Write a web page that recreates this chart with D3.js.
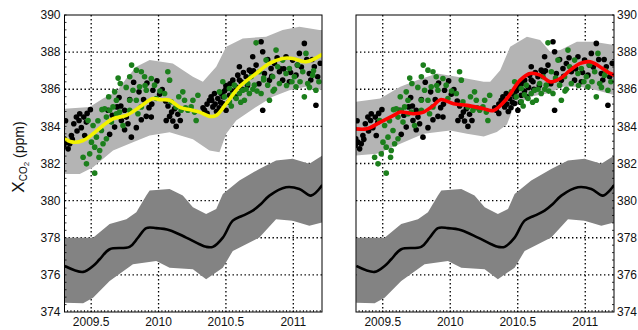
<!DOCTYPE html>
<html><head><meta charset="utf-8">
<script src="https://cdn.jsdelivr.net/npm/d3@7"></script>
<style>body{margin:0;background:#fff}svg{display:block}text{font-family:"Liberation Sans",Arial,sans-serif}</style>
</head><body><svg width="638" height="330"></svg>
<script>
// ---------- DATA ----------
const yTickValues = [374, 376, 378, 380, 382, 384, 386, 388, 390];
const xTickValues = [2009.5, 2010, 2010.5, 2011];
const xTickLabels = ["2009.5", "2010", "2010.5", "2011"];
const yTickLabels = ["374", "376", "378", "380", "382", "384", "386", "388", "390"];

// lower (background) series, same in both panels
const baseT  = [2009.304,2009.44,2009.514,2009.563,2009.637,2009.785,2009.847,2009.909,2009.983,2010.082,2010.205,2010.304,2010.353,2010.403,2010.477,2010.551,2010.625,2010.699,2010.76,2010.823,2010.946,2011.045,2011.131,2011.215];
const baseV  = [376.48,376.16,376.48,376.84,377.38,377.51,378.0,378.52,378.52,378.41,378.01,377.65,377.51,377.51,378.01,378.92,379.19,379.46,379.82,380.27,380.72,380.63,380.27,380.84];
const baseHiT = [2009.304,2009.514,2009.637,2009.761,2009.835,2009.909,2009.934,2010.082,2010.18,2010.255,2010.353,2010.428,2010.477,2010.6,2010.748,2010.872,2010.995,2011.119,2011.215];
const baseHiV = [378.0,378.0,378.74,379.0,379.37,380.27,380.54,380.63,380.27,379.64,379.28,379.55,380.36,381.08,381.71,382.16,382.25,381.98,382.43];
const baseLoT = [2009.304,2009.44,2009.514,2009.637,2009.81,2009.983,2010.082,2010.255,2010.353,2010.477,2010.551,2010.748,2010.872,2010.995,2011.119,2011.215];
const baseLoV = [374.5,374.47,374.77,375.67,376.57,376.75,376.39,376.3,375.76,376.39,377.29,378.01,379.0,378.92,378.65,378.83];

// left panel model (yellow)
const leftLineT = [2009.304,2009.366,2009.44,2009.514,2009.588,2009.662,2009.761,2009.86,2009.958,2010.008,2010.082,2010.156,2010.255,2010.304,2010.378,2010.428,2010.502,2010.6,2010.724,2010.823,2010.921,2010.995,2011.094,2011.215];
const leftLineV = [383.33,383.15,383.24,383.6,384.05,384.41,384.59,385.04,385.5,385.44,385.41,385.04,384.86,384.77,384.54,384.59,385.23,386.13,386.85,387.39,387.66,387.66,387.48,387.88];
const leftHiT = [2009.304,2009.489,2009.588,2009.687,2009.761,2009.835,2009.934,2010.106,2010.255,2010.329,2010.428,2010.502,2010.625,2010.798,2010.921,2011.045,2011.193,2011.22];
const leftHiV = [384.95,385.04,385.5,385.86,386.58,387.21,387.57,387.39,386.67,386.4,387.21,388.29,388.74,388.83,389.19,389.37,389.19,389.2];
const leftLoT = [2009.304,2009.415,2009.514,2009.662,2009.81,2009.934,2010.082,2010.255,2010.378,2010.452,2010.502,2010.576,2010.724,2010.847,2010.971,2011.094,2011.22];
const leftLoV = [381.44,381.44,381.8,382.7,383.15,383.51,383.69,383.3,382.7,382.61,383.6,384.32,385.05,385.59,385.95,386.13,385.95];

// right panel model (red)
const rightLineT = [2009.297,2009.383,2009.482,2009.581,2009.63,2009.729,2009.803,2009.877,2009.927,2010.025,2010.124,2010.248,2010.321,2010.42,2010.518,2010.592,2010.666,2010.74,2010.815,2010.889,2010.963,2011.037,2011.111,2011.185,2011.22];
const rightLineV = [383.87,383.87,384.23,384.59,384.77,384.68,384.77,385.13,385.44,385.22,385.13,384.95,384.86,385.5,386.49,386.85,386.76,386.4,386.58,387.03,387.39,387.48,387.2,386.85,386.75];
const rightHiT = [2009.297,2009.482,2009.63,2009.754,2009.902,2010.05,2010.248,2010.296,2010.37,2010.444,2010.568,2010.666,2010.74,2010.815,2010.938,2011.062,2011.22];
const rightHiV = [385.32,385.5,386.13,386.49,386.85,386.67,386.4,386.4,387.03,388.29,388.83,388.65,388.02,388.11,388.56,388.56,388.38];
const rightLoT = [2009.297,2009.457,2009.63,2009.803,2010.0,2010.124,2010.248,2010.345,2010.42,2010.469,2010.592,2010.716,2010.839,2010.963,2011.086,2011.22];
const rightLoV = [382.43,382.52,383.06,383.6,383.78,383.6,383.45,383.7,384.1,385.05,385.59,385.77,386.13,386.13,385.95,385.68];

// observations (same in both panels)
const blackT = [2009.287,2009.300,2009.297,2009.329,2009.316,2009.353,2009.371,2009.390,2009.410,2009.427,2009.395,2009.445,2009.464,2009.494,2009.452,2009.341,2009.415,2009.707,2009.692,2009.657,2009.625,2009.724,2009.748,2009.773,2009.798,2009.674,2009.637,2009.748,2009.835,2009.872,2009.909,2009.929,2009.889,2010.008,2009.988,2010.027,2010.052,2010.082,2010.106,2010.131,2010.097,2010.143,2010.161,2010.119,2009.815,2009.855,2009.914,2009.958,2009.786,2009.761,2010.057,2009.946,2010.378,2010.415,2010.440,2010.465,2010.501,2010.477,2010.551,2010.588,2010.613,2010.650,2010.699,2010.724,2010.761,2010.773,2010.786,2010.835,2010.860,2010.897,2010.946,2010.995,2011.045,2011.082,2011.119,2011.156,2011.181,2011.168,2010.773,2010.600,2010.921,2010.823,2010.526,2010.403,2010.341,2010.501,2010.674,2011.020,2010.971,2010.420,2010.450,2010.480,2010.520,2010.550,2010.580,2010.620,2010.630,2010.500,2010.570,2010.360,2010.395,2010.705,2010.745,2010.905,2011.060,2011.140,2011.200,
  2010.33,2010.36,2010.39,2010.43,2010.46,2010.49,2010.53,2010.60,2010.66,2010.69,2010.81,2010.84,2010.88,2010.93,2010.98,2011.03,2011.10,2011.13,2009.31,2009.36,2009.47,2009.72,2009.95,2010.07];
const blackV = [383.87,383.33,382.97,382.79,383.15,383.51,384.14,384.50,384.32,383.93,383.75,384.50,384.23,384.90,383.51,383.06,384.68,385.55,385.05,384.60,384.87,384.32,383.82,384.14,383.42,383.96,383.57,384.87,383.93,384.36,384.54,385.01,385.44,385.73,386.45,385.98,385.37,384.54,384.29,384.00,384.77,384.65,384.32,384.95,386.38,385.86,386.34,385.95,385.44,384.50,384.32,384.50,385.41,385.77,385.50,385.77,386.04,385.23,386.49,386.76,386.40,386.67,387.75,387.30,388.56,388.02,386.85,387.12,387.39,386.94,387.75,387.57,387.93,388.47,386.85,387.21,386.67,385.14,384.87,387.21,386.49,386.49,385.68,385.05,384.87,384.87,387.03,386.76,386.40,385.20,385.00,385.60,385.30,385.90,386.10,386.00,386.90,386.20,385.60,385.20,385.40,387.00,386.30,387.10,387.20,387.60,387.40,
  385.0,384.7,385.6,384.8,385.3,385.9,386.3,386.5,386.2,386.9,387.6,386.7,387.7,387.1,386.9,387.3,387.6,386.5,384.3,383.3,384.7,385.1,385.2,385.1];
const greenT = [2009.477,2009.514,2009.539,2009.502,2009.526,2009.489,2009.440,2009.465,2009.526,2009.563,2009.558,2009.588,2009.576,2009.613,2009.637,2009.662,2009.687,2009.716,2009.674,2009.600,2009.650,2009.687,2009.786,2009.835,2009.872,2009.896,2009.810,2009.859,2009.909,2009.946,2009.970,2009.786,2009.835,2009.872,2009.786,2009.847,2009.983,2010.069,2010.082,2010.045,2010.094,2010.131,2010.180,2010.193,2010.218,2010.242,2010.168,2009.736,2009.613,2009.711,2010.255,2010.292,2010.267,2010.279,2010.477,2010.452,2010.526,2010.563,2010.489,2010.526,2010.576,2010.600,2010.625,2010.662,2010.687,2010.724,2010.749,2010.761,2010.810,2010.823,2010.872,2010.884,2010.921,2010.946,2010.971,2011.008,2011.032,2011.070,2011.094,2011.107,2011.144,2011.168,2011.082,2011.020,2010.897,2010.847,2010.711,2010.674,2010.798,2010.637,2010.540,2010.610,2010.700,2010.780,2010.860,2010.990,2011.120,2011.190,
  2009.55,2009.58,2009.63,2009.70,2009.76,2009.80,2009.90,2010.01,2010.15,2010.20,2010.65,2010.73,2010.78,2010.85,2010.95,2011.05,2011.15,2010.55];
const greenV = [384.32,384.05,383.42,383.15,382.88,382.52,382.34,381.98,381.48,382.70,382.34,383.06,383.78,384.50,384.87,385.05,385.41,386.31,385.86,384.95,384.23,384.68,386.67,387.03,386.94,386.67,385.95,386.13,385.95,386.58,386.22,385.41,385.41,385.05,384.87,384.68,385.50,386.94,386.49,385.77,385.32,385.05,385.86,385.41,384.87,385.05,384.87,384.05,383.33,384.77,385.41,385.68,384.77,384.32,386.40,385.86,386.04,386.22,385.59,385.32,385.50,385.77,385.95,386.31,386.67,388.50,386.94,385.77,386.22,385.41,388.11,387.21,387.57,386.85,387.12,386.67,387.30,386.94,387.93,386.31,386.76,385.95,385.59,386.13,386.31,386.67,386.22,385.77,387.57,385.41,385.10,385.30,386.00,386.50,386.00,386.40,386.10,386.40,
  384.3,384.9,385.6,386.6,386.1,387.3,386.2,385.9,385.6,385.0,386.0,385.9,386.6,385.9,386.2,386.4,387.0,385.7];

// ---------- DRAW ----------
const svg = d3.select("svg");
const H0 = 15, H1 = 312;
const y = d3.scaleLinear().domain([374, 390]).range([H1, H0]);
const xDomain = [2009.302, 2011.213];
const panels = [
  {x0: 64.5, x1: 322, lineT: leftLineT, lineV: leftLineV, hiT: leftHiT, hiV: leftHiV, loT: leftLoT, loV: leftLoV, color: "#f2f200", side: "left"},
  {x0: 356, x1: 614, lineT: rightLineT, lineV: rightLineV, hiT: rightHiT, hiV: rightHiV, loT: rightLoT, loV: rightLoV, color: "#ff0000", side: "right"}
];
const zip = (a, b) => a.map((d, i) => [d, b[i]]);

panels.forEach((p, pi) => {
  const x = d3.scaleLinear().domain(xDomain).range([p.x0, p.x1]);
  const g = svg.append("g");
  const clipId = "clip" + pi;
  svg.append("clipPath").attr("id", clipId).append("rect")
    .attr("x", p.x0).attr("y", H0).attr("width", p.x1 - p.x0).attr("height", H1 - H0);

  // grid
  const grid = g.append("g").attr("stroke", "#000").attr("stroke-width", 1.3).attr("stroke-dasharray", "1.4,2.6");
  xTickValues.forEach(t => grid.append("line").attr("x1", x(t)).attr("x2", x(t)).attr("y1", H0).attr("y2", H1));
  yTickValues.slice(1, -1).forEach(v => grid.append("line").attr("x1", p.x0).attr("x2", p.x1).attr("y1", y(v)).attr("y2", y(v)));

  const c = g.append("g").attr("clip-path", `url(#${clipId})`);
  const ln = d3.line().x(d => x(d[0])).y(d => y(d[1]));
  const poly = (hiT, hiV, loT, loV) => ln(zip(hiT, hiV).concat(zip(loT, loV).reverse())) + "Z";

  // lower band + line
  c.append("path").attr("d", poly(baseHiT, baseHiV, baseLoT, baseLoV)).attr("fill", "#838383");
  c.append("path").attr("d", d3.line().x(d => x(d[0])).y(d => y(d[1])).curve(d3.curveCatmullRom)(zip(baseT, baseV)))
    .attr("fill", "none").attr("stroke", "#000").attr("stroke-width", 2.6);

  // upper band
  c.append("path").attr("d", poly(p.hiT, p.hiV, p.loT, p.loV)).attr("fill", "#b4b4b4");

  // observations
  c.append("g").selectAll("circle").data(zip(blackT, blackV)).join("circle")
    .attr("cx", d => x(d[0])).attr("cy", d => y(d[1])).attr("r", 2.8).attr("fill", "#000");
  c.append("g").selectAll("circle").data(zip(greenT, greenV)).join("circle")
    .attr("cx", d => x(d[0])).attr("cy", d => y(d[1])).attr("r", 2.8).attr("fill", "#1c7f1c");

  // model line
  c.append("path").attr("d", d3.line().x(d => x(d[0])).y(d => y(d[1])).curve(d3.curveCatmullRom)(zip(p.lineT, p.lineV)))
    .attr("fill", "none").attr("stroke", p.color).attr("stroke-width", 3.6).attr("stroke-linejoin", "round");

  // minor ticks
  const mt = g.append("g").attr("stroke", "#000").attr("stroke-width", 0.8);
  for (let t = 2009.325; t < xDomain[1]; t += 0.025) {
    mt.append("line").attr("x1", x(t)).attr("x2", x(t)).attr("y1", H1).attr("y2", H1 - 2);
  }
  const yx = p.side === "left" ? p.x0 : p.x1;
  const dir = p.side === "left" ? 1 : -1;
  for (let v = 374.4; v < 390; v += 0.4) {
    mt.append("line").attr("x1", yx).attr("x2", yx + 2 * dir).attr("y1", y(v)).attr("y2", y(v));
  }

  // frame
  g.append("rect").attr("x", p.x0).attr("y", H0).attr("width", p.x1 - p.x0).attr("height", H1 - H0)
    .attr("fill", "none").attr("stroke", "#000").attr("stroke-width", 1);

  // tick labels
  g.append("g").selectAll("text").data(xTickValues).join("text")
    .attr("x", d => x(d)).attr("y", 326).attr("text-anchor", "middle")
    .attr("font-size", 12).attr("fill", "#111").text((d, i) => xTickLabels[i]);
  g.append("g").selectAll("text").data(yTickValues).join("text")
    .attr("x", p.side === "left" ? p.x0 - 4 : p.x1 + 3).attr("y", d => y(d)).attr("dy", "0.35em")
    .attr("text-anchor", p.side === "left" ? "end" : "start")
    .attr("font-size", 12).attr("fill", "#111").text((d, i) => yTickLabels[i]);
});

// y-axis title
const yt = svg.append("text").attr("transform", "translate(24,157) rotate(-90)")
  .attr("text-anchor", "middle").attr("fill", "#111");
yt.append("tspan").attr("font-size", 17).text("X");
yt.append("tspan").attr("font-size", 10).attr("dy", 3).text("CO");
yt.append("tspan").attr("font-size", 8).attr("dy", 2).text("2");
yt.append("tspan").attr("font-size", 14).attr("dy", -5).text(" (ppm)");
</script></body></html>
